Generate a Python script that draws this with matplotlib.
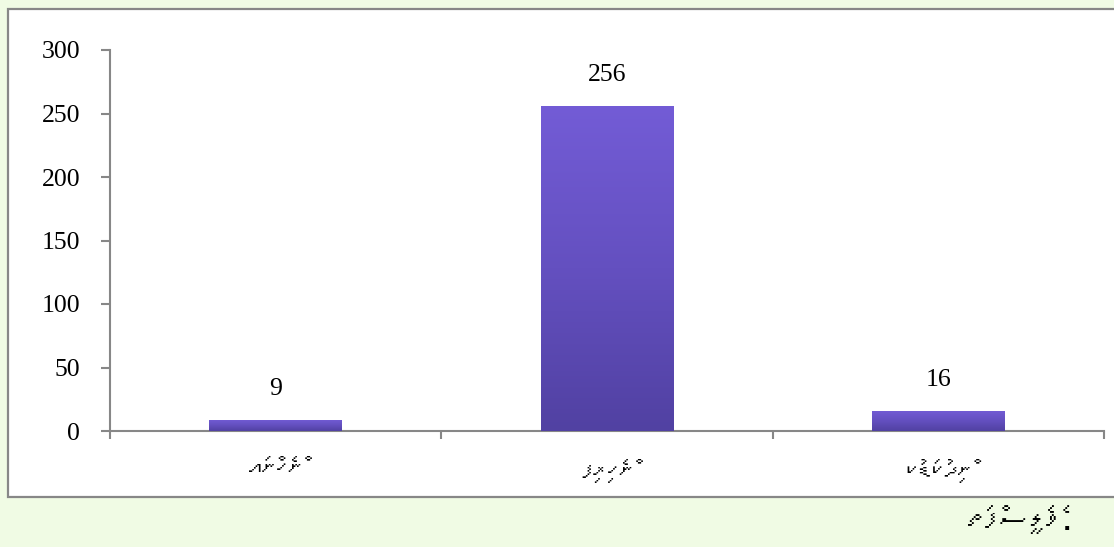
import matplotlib
matplotlib.use("Agg")
import matplotlib.pyplot as plt
import matplotlib.patches as mpatches
import matplotlib.transforms as mtransforms
from matplotlib import font_manager
from matplotlib.ft2font import FT2Font
from matplotlib.colors import LinearSegmentedColormap
import numpy as np

# ---- data ----
categories = ["އަންހެން", "ފިރިހެން", "ކުޑަކުދިން"]
values = [9, 256, 16]
y_ticks = [0, 50, 100, 150, 200, 250, 300]
caption = "ތަފްސީލެވެ."

# ---- find a font with Thaana glyphs, if any ----
thaana_family = None
for path in sorted(font_manager.findSystemFonts()):
    try:
        f = FT2Font(path)
        if 0x0780 in f.get_charmap() and 0x07A6 in f.get_charmap():
            thaana_family = font_manager.FontProperties(fname=path).get_name()
            break
    except Exception:
        pass
thaana_fams = ([thaana_family] if thaana_family else []) + ["DejaVu Sans"]

serif = ["Liberation Serif", "DejaVu Serif"]

W, H = 1114, 547
fig = plt.figure(figsize=(W / 100, H / 100), dpi=100)
fig.patch.set_facecolor("#f0fbe4")

# chart area box (white with grey border)
box = mpatches.Rectangle((8 / W, 1 - 497 / H), 1.2, (497 - 9) / H,
                         transform=fig.transFigure, facecolor="white",
                         edgecolor="#878787", linewidth=1.6, zorder=-5)
fig.patches.append(box)

ax = fig.add_axes([110 / W, 1 - 431 / H, (1104 - 110) / W, (431 - 50) / H])
ax.set_facecolor("none")
ax.set_zorder(2)

x = np.arange(len(categories))
bars = ax.bar(x, values, width=0.4, color="none", zorder=3)

ax.set_xlim(-0.5, len(categories) - 0.5)
ax.set_ylim(0, 300)

# gradient fill + soft shadow per bar
cmap = LinearSegmentedColormap.from_list("g", ["#5141a2", "#6450c0", "#735cd6"])
grad = np.linspace(0, 1, 256).reshape(-1, 1)
for b in bars:
    x0, w, h = b.get_x(), b.get_width(), b.get_height()
    for i, a in enumerate([0.05, 0.05, 0.06]):
        sh = mpatches.Rectangle((x0, 0), w, h,
                                facecolor="black", edgecolor="none",
                                alpha=a, zorder=2,
                                transform=ax.transData + mtransforms.ScaledTranslation(0, -(i + 1) / 100, fig.dpi_scale_trans))
        ax.add_patch(sh)
    im = ax.imshow(grad, extent=(x0, x0 + w, 0, h), origin="lower",
                   cmap=cmap, aspect="auto", zorder=3)
    im.set_clip_path(b)
    ax.annotate(f"{int(h)}", (x0 + w / 2, h), xytext=(0, 22),
                textcoords="offset points", ha="center", va="center",
                fontsize=18.5, family=serif, color="black")

ax.set_xlim(-0.5, len(categories) - 0.5)
ax.set_ylim(0, 300)

# spines
for s in ["top", "right"]:
    ax.spines[s].set_visible(False)
for s in ["left", "bottom"]:
    ax.spines[s].set_color("#878787")
    ax.spines[s].set_linewidth(1.5)

ax.set_yticks(y_ticks)
ax.set_yticklabels([str(t) for t in y_ticks], fontsize=18.5, family=serif)
ax.tick_params(axis="y", direction="out", length=6.5, width=1.5,
               color="#878787", pad=15)

ax.set_xticks(x)
ax.set_xticklabels(categories, fontsize=19, family=thaana_fams, style="italic")
ax.tick_params(axis="x", which="major", length=0, pad=20)
ax.set_xticks(np.arange(-0.5, len(categories)), minor=True)
ax.tick_params(axis="x", which="minor", direction="out", length=6,
               width=1.5, color="#878787")

fig.text(1075 / W, 1 - 520 / H, caption, ha="right", va="center",
         fontsize=22, family=thaana_fams, style="italic")

fig.savefig("out.png", dpi=100, facecolor=fig.get_facecolor())
